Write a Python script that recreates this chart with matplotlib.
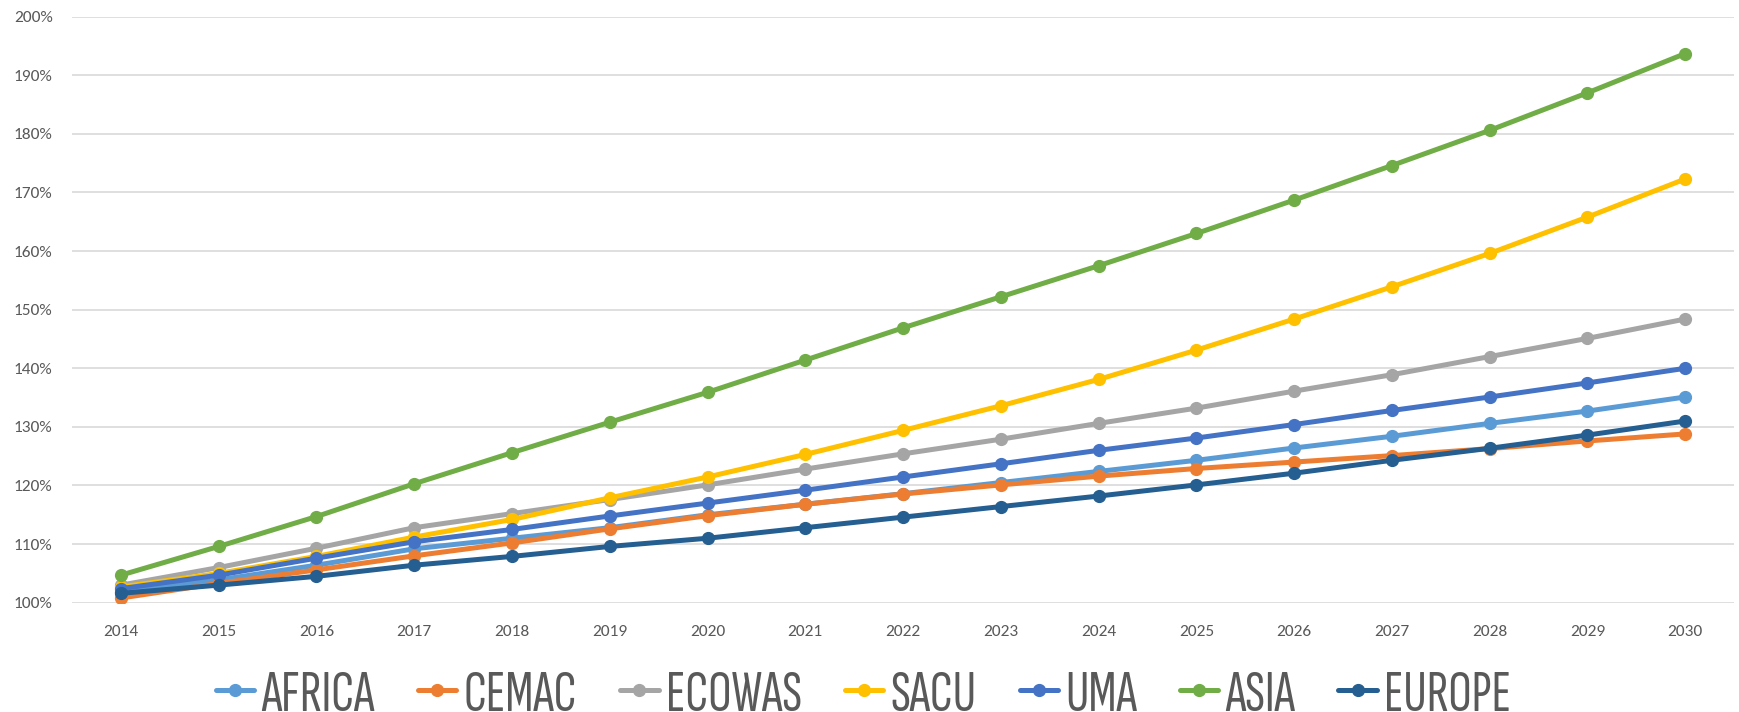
import numpy as np
import matplotlib.pyplot as plt
from matplotlib.ticker import FuncFormatter

plt.rcParams['font.family'] = ['Carlito', 'DejaVu Sans']

years = list(range(2014, 2031))

africa = [101.9, 103.9, 106.4, 109.2, 111.0, 112.8, 115.0, 116.8, 118.6, 120.5,
          122.4, 124.3, 126.4, 128.4, 130.6, 132.7, 135.1]
cemac = [100.8, 103.3, 105.6, 108.0, 110.2, 112.6, 114.85, 116.8, 118.55, 120.1,
         121.6, 122.9, 124.0, 125.1, 126.3, 127.6, 128.8]
ecowas = [103.0, 106.0, 109.3, 112.8, 115.2, 117.6, 120.1, 122.8, 125.4, 127.9,
          130.6, 133.2, 136.1, 138.9, 142.0, 145.1, 148.4]
sacu = [102.7, 105.0, 107.9, 111.2, 114.2, 117.9, 121.45, 125.3, 129.4, 133.6,
        138.1, 143.1, 148.4, 153.9, 159.6, 165.8, 172.3]
uma = [102.4, 104.7, 107.6, 110.4, 112.5, 114.8, 117.0, 119.2, 121.45, 123.7,
       126.0, 128.1, 130.4, 132.8, 135.1, 137.5, 140.0]
asia = [104.7, 109.6, 114.7, 120.3, 125.6, 130.8, 135.9, 141.4, 146.9, 152.2,
        157.5, 163.0, 168.7, 174.6, 180.6, 187.0, 193.7]
europe = [101.6, 103.0, 104.5, 106.4, 107.9, 109.6, 111.0, 112.8, 114.6, 116.4,
          118.2, 120.1, 122.1, 124.3, 126.35, 128.6, 131.0]

series = [('AFRICA', africa, '#5B9BD5'),
          ('CEMAC', cemac, '#ED7D31'),
          ('ECOWAS', ecowas, '#A5A5A5'),
          ('SACU', sacu, '#FFC000'),
          ('UMA', uma, '#4472C4'),
          ('ASIA', asia, '#70AD47'),
          ('EUROPE', europe, '#255E91')]

fig = plt.figure(figsize=(17.4, 7.12), dpi=100)
ax = fig.add_axes([0.0414, 0.1535, 0.9552, 0.8231])

x = np.arange(len(years))
for name, vals, col in series:
    ax.plot(x, vals, color=col, lw=3.6, marker='o', ms=8.5,
            solid_capstyle='round', label=name, zorder=3)

ax.set_xlim(-0.5, len(years) - 0.5)
ax.set_ylim(100, 200)
ax.set_yticks(np.arange(100, 201, 10))
ax.yaxis.set_major_formatter(FuncFormatter(lambda v, p: f'{v:.0f}%'))
ax.set_xticks(x)
ax.set_xticklabels([str(y) for y in years])
ax.grid(axis='y', color='#D9D9D9', lw=1.2, zorder=0)
for s in ax.spines.values():
    s.set_visible(False)
ax.tick_params(axis='both', length=0, colors='#595959', labelsize=12.5)
ax.tick_params(axis='x', pad=16)
ax.tick_params(axis='y', pad=14)

# narrow, tall legend text along the bottom edge
leg = ax.legend(loc='center left', bbox_to_anchor=(0.0866, -0.159), ncol=7,
                frameon=False, borderpad=0, borderaxespad=0,
                prop={'family': ['Sofia Sans Extra Condensed', 'DejaVu Sans'], 'size': 42},
                handlelength=0.66, handletextpad=0.12, columnspacing=0.74,
                markerscale=1.0)
for t in leg.get_texts():
    t.set_color('#595959')

fig.savefig('out.png', dpi=100)
